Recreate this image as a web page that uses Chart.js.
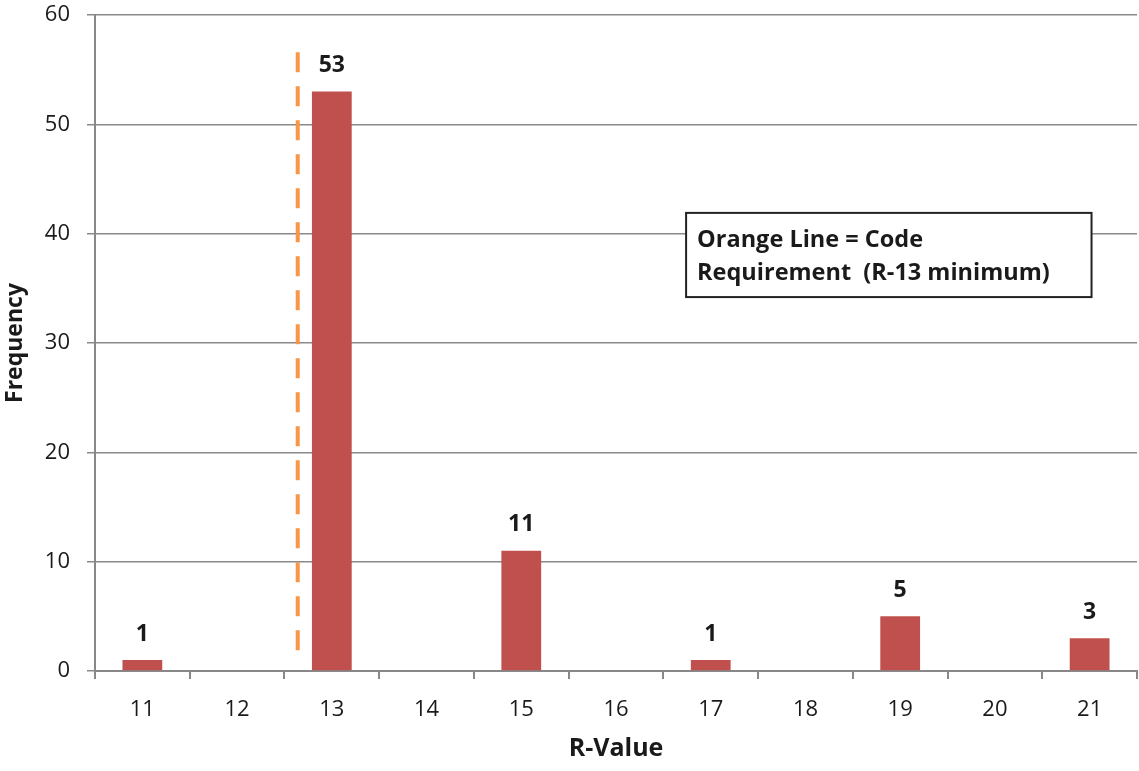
<!DOCTYPE html>
<html lang="en">
<head>
    <meta charset="UTF-8">
    <title>R-Value Frequency</title>
    <script src="https://cdn.jsdelivr.net/npm/chart.js"></script>
    <style>
        html, body { margin: 0; padding: 0; background: #fff; }
        #wrap { width: 1139px; height: 771px; }
    </style>
</head>
<body>
<div id="wrap"><canvas id="rChart" width="1139" height="771"></canvas></div>
<script>
    // R-value categories and how many times each was found
    const rValues = ["11", "12", "13", "14", "15", "16", "17", "18", "19", "20", "21"];
    const frequency = [1, 0, 53, 0, 11, 0, 1, 0, 5, 0, 3];
    const yTicks = [0, 10, 20, 30, 40, 50, 60];

    // code requirement marker (R-value position and vertical extent)
    const codeLineR = 12.64;
    const codeLineSpan = [1.2, 56.6];
    const noteLines = ["Orange Line = Code", "Requirement  (R-13 minimum)"];

    const FONT = "'Open Sans', Lato, sans-serif";
    const TEXT = "#1a1a1a";

    // pixel for a fractional R-value on the category axis
    function rToPixel(scale, r) {
        const idx = r - Number(rValues[0]);
        const i0 = Math.floor(idx);
        const p0 = scale.getPixelForValue(i0);
        const p1 = scale.getPixelForValue(i0 + 1);
        return p0 + (p1 - p0) * (idx - i0);
    }

    const barLabels = {
        id: "barLabels",
        afterDatasetsDraw(chart) {
            const ctx = chart.ctx;
            const meta = chart.getDatasetMeta(0);
            ctx.save();
            ctx.font = "bold 23px " + FONT;
            ctx.fillStyle = TEXT;
            ctx.textAlign = "center";
            ctx.textBaseline = "middle";
            meta.data.forEach((bar, i) => {
                if (!frequency[i]) return;
                ctx.fillText(String(frequency[i]), bar.x, bar.y - 26);
            });
            ctx.restore();
        }
    };

    const codeLine = {
        id: "codeLine",
        afterDatasetsDraw(chart) {
            const { ctx, scales: { x, y } } = chart;
            const px = rToPixel(x, codeLineR);
            ctx.save();
            ctx.strokeStyle = "#F79646";
            ctx.lineWidth = 4;
            ctx.setLineDash([20, 14]);
            ctx.beginPath();
            ctx.moveTo(px, y.getPixelForValue(codeLineSpan[1]));
            ctx.lineTo(px, y.getPixelForValue(codeLineSpan[0]));
            ctx.stroke();
            ctx.restore();
        }
    };

    const noteBox = {
        id: "noteBox",
        afterDraw(chart) {
            const { ctx, scales: { x, y } } = chart;
            const left = rToPixel(x, 16.74);
            const right = rToPixel(x, 21.02);
            const top = y.getPixelForValue(41.9);
            const bottom = y.getPixelForValue(34.2);
            ctx.save();
            ctx.fillStyle = "#fff";
            ctx.fillRect(left, top, right - left, bottom - top);
            ctx.strokeStyle = "#222";
            ctx.lineWidth = 2;
            ctx.strokeRect(left, top, right - left, bottom - top);
            ctx.font = "bold 23.5px " + FONT;
            ctx.fillStyle = TEXT;
            ctx.textAlign = "left";
            ctx.textBaseline = "middle";
            ctx.fillText(noteLines[0], left + 11, top + 27);
            ctx.fillText(noteLines[1], left + 11, top + 60);
            ctx.restore();
        }
    };

    new Chart(document.getElementById("rChart"), {
        type: "bar",
        data: {
            labels: rValues,
            datasets: [{
                label: "Frequency",
                data: frequency,
                backgroundColor: "#C0504D",
                borderWidth: 0,
                barPercentage: 0.42,
                categoryPercentage: 1
            }]
        },
        options: {
            responsive: false,
            animation: false,
            layout: { padding: { top: 15, right: 2, left: 0, bottom: 0 } },
            plugins: {
                legend: { display: false },
                tooltip: { enabled: false }
            },
            scales: {
                x: {
                    grid: {
                        offset: true,
                        drawOnChartArea: false,
                        drawTicks: true,
                        tickLength: 8,
                        color: "#888",
                        lineWidth: 2
                    },
                    border: { color: "#888", width: 2 },
                    ticks: {
                        color: TEXT,
                        font: { family: FONT, size: 22 },
                        padding: 18,
                        maxRotation: 0
                    },
                    title: {
                        display: true,
                        text: "R-Value",
                        color: TEXT,
                        font: { family: FONT, size: 25, weight: "bold" },
                        padding: { top: 0, bottom: 7 }
                    },
                    afterFit(scale) {
                        scale.height = 100;
                        scale.paddingLeft = 0;
                        scale.paddingRight = 0;
                    }
                },
                y: {
                    min: 0,
                    max: 60,
                    afterBuildTicks(scale) { scale.ticks = yTicks.map(v => ({ value: v })); },
                    grid: {
                        color: "#8a8a8a",
                        lineWidth: 1.5,
                        tickLength: 8
                    },
                    border: { color: "#888", width: 2 },
                    ticks: {
                        color: TEXT,
                        font: { family: FONT, size: 22 },
                        padding: 17
                    },
                    title: {
                        display: true,
                        text: "Frequency",
                        color: TEXT,
                        font: { family: FONT, size: 23, weight: "bold" },
                        padding: { top: 2, bottom: 0 }
                    },
                    afterFit(scale) {
                        scale.width = 95;
                        scale.paddingTop = 0;
                        scale.paddingBottom = 0;
                    }
                }
            }
        },
        plugins: [barLabels, codeLine, noteBox]
    });
</script>
</body>
</html>
